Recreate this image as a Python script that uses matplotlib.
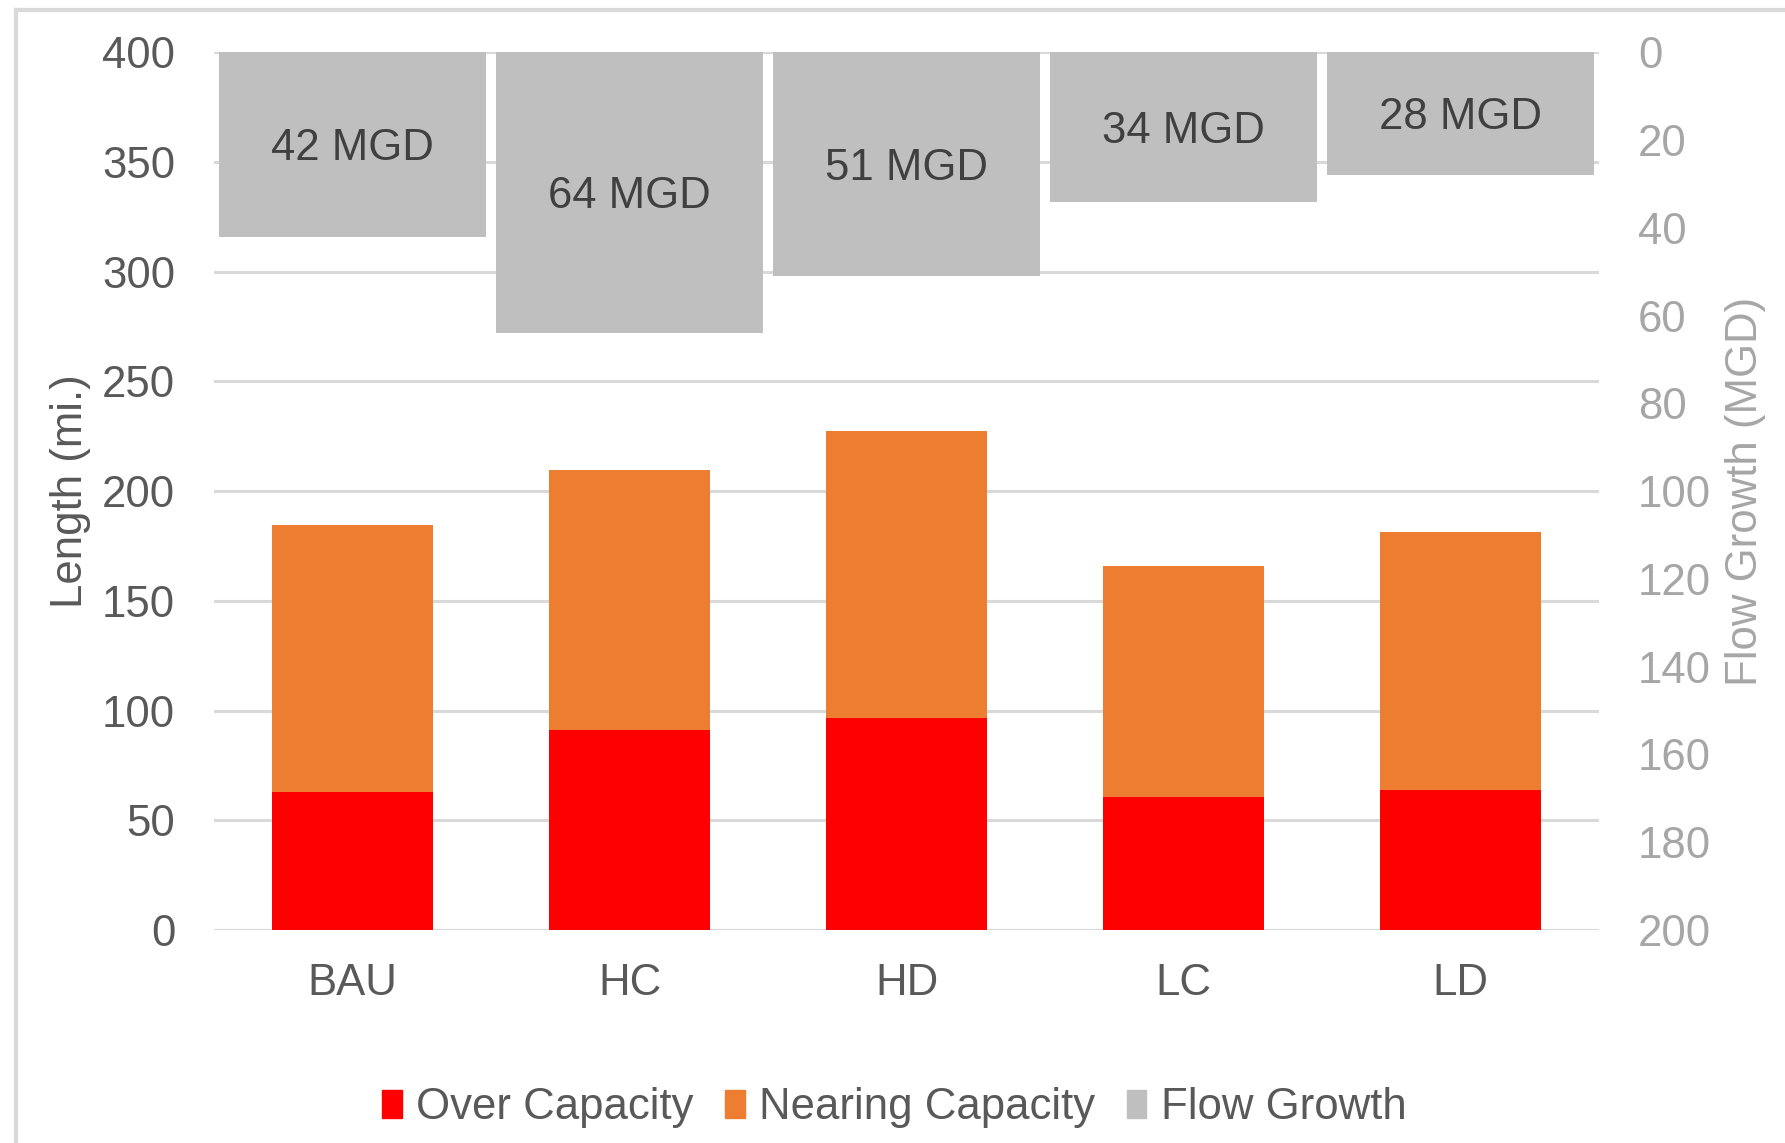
import matplotlib
matplotlib.use("Agg")
import matplotlib.pyplot as plt
from matplotlib.lines import Line2D
from matplotlib.patches import Patch
import numpy as np

# Scenario data
scenarios = ["BAU", "HC", "HD", "LC", "LD"]
over_capacity = [62.8, 91.3, 96.5, 60.7, 63.8]        # miles
nearing_capacity = [121.6, 118.3, 130.7, 105.3, 117.8]  # miles (stacked on top)
flow_growth = [42, 64, 51, 34, 28]                    # MGD

RED = "#FF0000"
ORANGE = "#ED7D31"
GRAY = "#BFBFBF"
GRID = "#D9D9D9"
TXT = "#595959"
TXT2 = "#A6A6A6"

plt.rcParams["font.family"] = ["Liberation Sans", "DejaVu Sans"]
FS = 31.5

fig = plt.figure(figsize=(17.85, 11.43), dpi=100)
ax = fig.add_axes([0.1199, 0.1864, 0.8959 - 0.1199, 0.9542 - 0.1864])
x = np.arange(len(scenarios))

ax.set_axisbelow(True)
ax.yaxis.grid(True, color=GRID, linewidth=2.2)
ax.bar(x, over_capacity, width=0.58, color=RED, zorder=2)
ax.bar(x, nearing_capacity, width=0.58, bottom=over_capacity, color=ORANGE, zorder=2)
ax.set_ylim(0, 400)
ax.set_yticks(np.arange(0, 401, 50))
ax.set_xlim(-0.5, len(scenarios) - 0.5)
ax.set_xticks(x)
ax.set_xticklabels(scenarios)
ax.tick_params(axis="both", length=0, labelsize=FS, labelcolor=TXT)
ax.tick_params(axis="x", pad=24)
ax.tick_params(axis="y", pad=28)
ax.set_ylabel("Length (mi.)", fontsize=FS, color=TXT, labelpad=8)
for s in ax.spines.values():
    s.set_visible(False)

# Secondary inverted axis for flow growth
ax2 = ax.twinx()
ax2.bar(x, flow_growth, width=0.965, color=GRAY, zorder=2)
ax2.set_ylim(200, 0)
ax2.set_yticks(np.arange(0, 201, 20))
ax2.tick_params(axis="y", length=0, labelsize=FS, labelcolor=TXT2, pad=28)
ax2.set_ylabel("Flow Growth (MGD)", fontsize=FS, color=TXT2, rotation=90, labelpad=10)
for s in ax2.spines.values():
    s.set_visible(False)
for xi, v in zip(x, flow_growth):
    ax2.annotate(f"{v} MGD", (xi, v / 2), xytext=(0, -3), textcoords="offset points",
                 ha="center", va="center", fontsize=FS, color="#404040")

handles = [Patch(color=RED, label="Over Capacity"),
           Patch(color=ORANGE, label="Nearing Capacity"),
           Patch(color=GRAY, label="Flow Growth")]
fig.legend(handles=handles, loc="center", bbox_to_anchor=(0.501, 0.031), ncol=3,
           frameon=False, fontsize=FS, handlelength=0.45, handleheight=0.6,
           handletextpad=0.33, columnspacing=0.72, labelcolor=TXT)

# Chart frame
fig.add_artist(Line2D([16 / 1785, 16 / 1785], [0, 1 - 10 / 1143], color=GRID, linewidth=3,
                      transform=fig.transFigure))
fig.add_artist(Line2D([16 / 1785, 1], [1 - 10 / 1143, 1 - 10 / 1143], color=GRID, linewidth=3,
                      transform=fig.transFigure))

fig.savefig("out.png", dpi=100, facecolor="white")
